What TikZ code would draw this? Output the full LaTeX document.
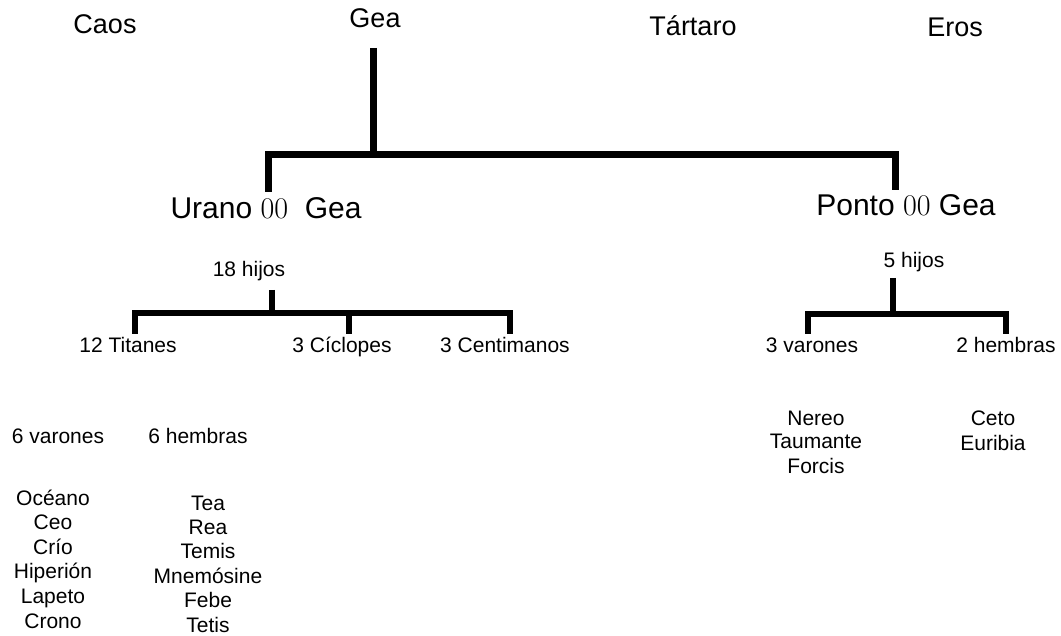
\documentclass[tikz,border=0pt]{standalone}
\usepackage{fontspec}
\newfontfamily\arial{Liberation Sans}
\usetikzlibrary{calc}

\tikzset{
  dios/.style={font=\arial\fontsize{27}{32}\selectfont, inner sep=0pt, anchor=base},
  pareja/.style={font=\arial\fontsize{30}{35}\selectfont, inner sep=0pt, anchor=base},
  nombre/.style={font=\arial\fontsize{21}{25}\selectfont, inner sep=0pt, anchor=base},
  rama/.style={line width=7pt, black},
  ramita/.style={line width=6.5pt, black}
}

\begin{document}
\begin{tikzpicture}[x=1pt, y=-1pt]

  \useasboundingbox (0,0) rectangle (1061,636);

  % primeros dioses
  \node[dios] (caos) at (105,34) {Caos};
  \node[dios] (gea) at (375,28) {Gea};
  \node[dios] (tartaro) at (693,36) {Tártaro};
  \node[dios] (eros) at (955,37) {Eros};

  % parejas
  \node[pareja] (urano) at (266,219) {Urano {\rmfamily 00}~~Gea};
  \node[pareja] (ponto) at (906,216) {Ponto {\rmfamily 00}~Gea};

  %rama de Gea
  \coordinate (gea-t) at (373,48);
  \coordinate (gea-j) at (373,155);
  \coordinate (urano-t) at (268,192);
  \coordinate (ponto-t) at (895,190);
  \draw[rama] (gea-t) -- (gea-j);
  \draw[rama] (urano-t) |- (gea-j) -| (ponto-t);

  % hijos de Urano
  \node[nombre] (hijos18) at (249,277) {18 hijos};
  \node[nombre] (titanes) at (128,353) {12 Titanes};
  \node[nombre] (ciclopes) at (342,353) {3 Cíclopes};
  \node[nombre] (centimanos) at (505,353) {3 Centimanos};

  \coordinate (hijos18-t) at (272,290);
  \coordinate (hijos18-j) at (272,313);
  \coordinate (titanes-t) at (135,334);
  \coordinate (ciclopes-t) at (349,334);
  \coordinate (centimanos-t) at (510,334);
  \draw[ramita] (hijos18-t) -- (hijos18-j);
  \draw[ramita] (titanes-t) |- (hijos18-j) -| (centimanos-t);
  \draw[ramita] (ciclopes-t) -- (ciclopes-t |- hijos18-j);

  % hijos de Ponto
  \node[nombre] (hijos5) at (914,268) {5 hijos};
  \node[nombre] (varonesP) at (812,353) {3 varones};
  \node[nombre] (hembrasP) at (1006,353) {2 hembras};

  \coordinate (hijos5-t) at (893,278);
  \coordinate (hijos5-j) at (893,314);
  \coordinate (varonesP-t) at (808,334);
  \coordinate (hembrasP-t) at (1006,334);
  \draw[ramita] (hijos5-t) -- (hijos5-j);
  \draw[ramita] (varonesP-t) |- (hijos5-j) -| (hembrasP-t);

  \foreach \n [count=\i] in {Nereo,Taumante,Forcis}
    \node[nombre] (nereida\i) at (816,{425+24*(\i-1)}) {\n};
  \foreach \n [count=\i] in {Ceto,Euribia}
    \node[nombre] (ceto\i) at (993,{425+25*(\i-1)}) {\n};

  % titanes
  \node[nombre] (varonesT) at (58,443) {6 varones};
  \node[nombre] (hembrasT) at (198,443) {6 hembras};

  \foreach \n [count=\i] in {Océano,Ceo,Crío,Hiperión,Lapeto,Crono}
    \node[nombre] (titan\i) at (53,{505+24.6*(\i-1)}) {\n};
  \foreach \n [count=\i] in {Tea,Rea,Temis,Mnemósine,Febe,Tetis}
    \node[nombre] (titanide\i) at (208,{510+24.4*(\i-1)}) {\n};

\end{tikzpicture}
\end{document}
